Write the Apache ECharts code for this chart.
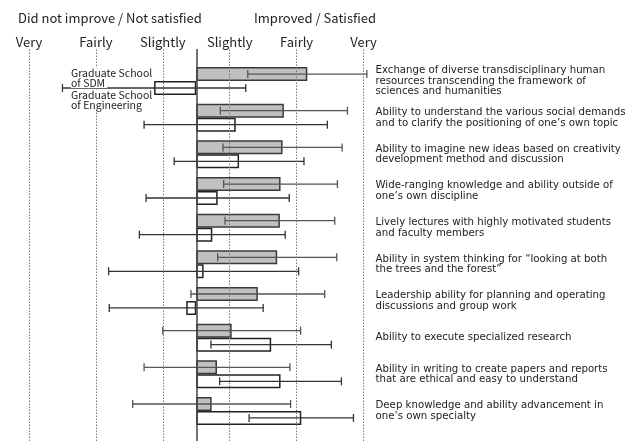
<!DOCTYPE html>
<html>
<head>
<meta charset="utf-8">
<script src="https://cdn.jsdelivr.net/npm/echarts@6/dist/echarts.min.js"></script>
<style>html,body{margin:0;padding:0;background:#fff}#c{width:641px;height:441px}</style>
</head>
<body>
<div id="c"></div>
<script>
const categories = [
  'Exchange of diverse transdisciplinary human\nresources transcending the framework of\nsciences and humanities',
  'Ability to understand the various social demands\nand to clarify the positioning of one’s own topic',
  'Ability to imagine new ideas based on creativity\ndevelopment method and discussion',
  'Wide-ranging knowledge and ability outside of\none’s own discipline',
  'Lively lectures with highly motivated students\nand faculty members',
  'Ability in system thinking for “looking at both\nthe trees and the forest”',
  'Leadership ability for planning and operating\ndiscussions and group work',
  'Ability to execute specialized research',
  'Ability in writing to create papers and reports\nthat are ethical and easy to understand',
  'Deep knowledge and ability advancement in\none’s own specialty'
];
const sdmMean = [1.66, 1.31, 1.29, 1.26, 1.25, 1.21, 0.92, 0.53, 0.31, 0.23];
const sdmErr  = [0.89, 0.95, 0.89, 0.85, 0.82, 0.89, 1.00, 1.03, 1.09, 1.18];
const engMean = [-0.63, 0.59, 0.64, 0.32, 0.24, 0.11, -0.15, 1.12, 1.26, 1.57];
const engErr  = [1.37, 1.37, 0.97, 1.07, 1.09, 1.42, 1.15, 0.90, 0.91, 0.78];
const scaleTicks = [-2.5, -1.5, -0.5, 0.5, 1.5, 2.5];
const scaleLabels = ['Very', 'Fairly', 'Slightly', 'Slightly', 'Fairly', 'Very'];
const headerLeft = 'Did not improve / Not satisfied';
const headerRight = 'Improved / Satisfied';
const legendSDM = ['Graduate School', 'of SDM'];
const legendEng = ['Graduate School', 'of Engineering'];

const FONT = '"Noto Sans CJK JP", "Noto Sans", sans-serif';
const LABEL_FONT = '"DejaVu Sans", "Noto Sans", sans-serif';

function errRender(sign, color) {
  return function (params, api) {
    const c = api.value(0);
    const lo = api.coord([api.value(1), c]);
    const hi = api.coord([api.value(2), c]);
    const band = api.size([0, 1])[1];
    const y = lo[1] + sign * band * 0.19;
    const cap = 4;
    const st = { stroke: color, lineWidth: 1.3 };
    return {
      type: 'group',
      children: [
        { type: 'line', shape: { x1: lo[0], y1: y, x2: hi[0], y2: y }, style: st },
        { type: 'line', shape: { x1: lo[0], y1: y - cap, x2: lo[0], y2: y + cap }, style: st },
        { type: 'line', shape: { x1: hi[0], y1: y - cap, x2: hi[0], y2: y + cap }, style: st }
      ]
    };
  };
}

const chart = echarts.init(document.getElementById('c'), null, { renderer: 'canvas' });
const textStyle = { fontFamily: FONT, color: '#222', fontWeight: 'normal', fontSize: 13 };

function richLegend(lines) {
  return lines.map(l => '{a|' + l + '}').join('\n');
}

chart.setOption({
  animation: false,
  backgroundColor: '#fff',
  textStyle: { fontFamily: FONT },
  title: [
    { text: headerLeft, left: 18, top: 12, padding: 0, textStyle: textStyle },
    { text: headerRight, left: 254, top: 12, padding: 0, textStyle: textStyle }
  ],
  grid: [
    { left: 29, right: 277.5, top: 62.7, bottom: 11.7 },
    { left: 29, right: 277.5, top: 49, bottom: 0 }
  ],
  xAxis: [
    { gridIndex: 0, type: 'value', min: -2.5, max: 2.5, show: false },
    {
      gridIndex: 1, type: 'value', min: -2.5, max: 2.5, position: 'top',
      axisLine: { show: false }, axisTick: { show: false }, splitLine: { show: false },
      axisLabel: {
        customValues: scaleTicks,
        formatter: function (v) {
          for (let i = 0; i < scaleTicks.length; i++) if (Math.abs(scaleTicks[i] - v) < 1e-6) return scaleLabels[i];
          return '';
        },
        margin: 0, fontSize: 13, color: '#222', fontFamily: FONT
      }
    }
  ],
  yAxis: [
    {
      gridIndex: 0, type: 'category', data: categories, inverse: true, position: 'right',
      axisLine: { show: false }, axisTick: { show: false }, splitLine: { show: false },
      axisLabel: { align: 'left', margin: 12, fontSize: 10.2, lineHeight: 10.6, padding: [0, 0, 3, 0], color: '#222', fontFamily: LABEL_FONT }
    },
    { gridIndex: 1, type: 'value', min: 0, max: 1, show: false }
  ],
  graphic: [
    {
      type: 'text', left: 71, top: 67.5, z: 100,
      style: {
        text: richLegend(legendSDM), fill: '#222', font: '10.5px ' + FONT,
        rich: { a: { fontSize: 10.5, lineHeight: 10, backgroundColor: '#fff', fontFamily: FONT, padding: [0, 2, 0, 0] } }
      }
    },
    {
      type: 'text', left: 71, top: 89.5, z: 100,
      style: {
        text: richLegend(legendEng), fill: '#222', font: '10.5px ' + FONT,
        rich: { a: { fontSize: 10.5, lineHeight: 10, backgroundColor: '#fff', fontFamily: FONT } }
      }
    }
  ],
  series: [
    {
      name: 'gridlines', type: 'scatter', xAxisIndex: 1, yAxisIndex: 1, data: [], z: 1, silent: true,
      markLine: {
        silent: true, symbol: 'none', label: { show: false },
        lineStyle: { color: '#777', type: [1.5, 1.5], width: 1 },
        data: scaleTicks.map(v => ({ xAxis: v }))
      }
    },
    {
      name: 'zero', type: 'scatter', xAxisIndex: 1, yAxisIndex: 1, data: [], z: 5, silent: true,
      markLine: {
        silent: true, symbol: 'none', label: { show: false },
        lineStyle: { color: '#444', type: 'solid', width: 1.5 },
        data: [{ xAxis: 0 }]
      }
    },
    {
      name: 'Graduate School of SDM', type: 'bar', xAxisIndex: 0, yAxisIndex: 0, z: 3,
      data: sdmMean, barWidth: 14, barGap: '0%',
      itemStyle: { color: '#c0c0c0', borderColor: '#3a3a3a', borderWidth: 1.5 }
    },
    {
      name: 'Graduate School of Engineering', type: 'bar', xAxisIndex: 0, yAxisIndex: 0, z: 3,
      data: engMean, barWidth: 14, barGap: '0%',
      itemStyle: { color: '#fff', borderColor: '#222', borderWidth: 1.5 }
    },
    {
      type: 'custom', xAxisIndex: 0, yAxisIndex: 0, z: 4, silent: true,
      renderItem: errRender(-1, '#555'),
      encode: { x: [1, 2], y: 0 },
      data: categories.map((_, i) => [i, sdmMean[i] - sdmErr[i], sdmMean[i] + sdmErr[i]])
    },
    {
      type: 'custom', xAxisIndex: 0, yAxisIndex: 0, z: 4, silent: true,
      renderItem: errRender(1, '#333'),
      encode: { x: [1, 2], y: 0 },
      data: categories.map((_, i) => [i, engMean[i] - engErr[i], engMean[i] + engErr[i]])
    }
  ]
});
</script>
</body>
</html>
